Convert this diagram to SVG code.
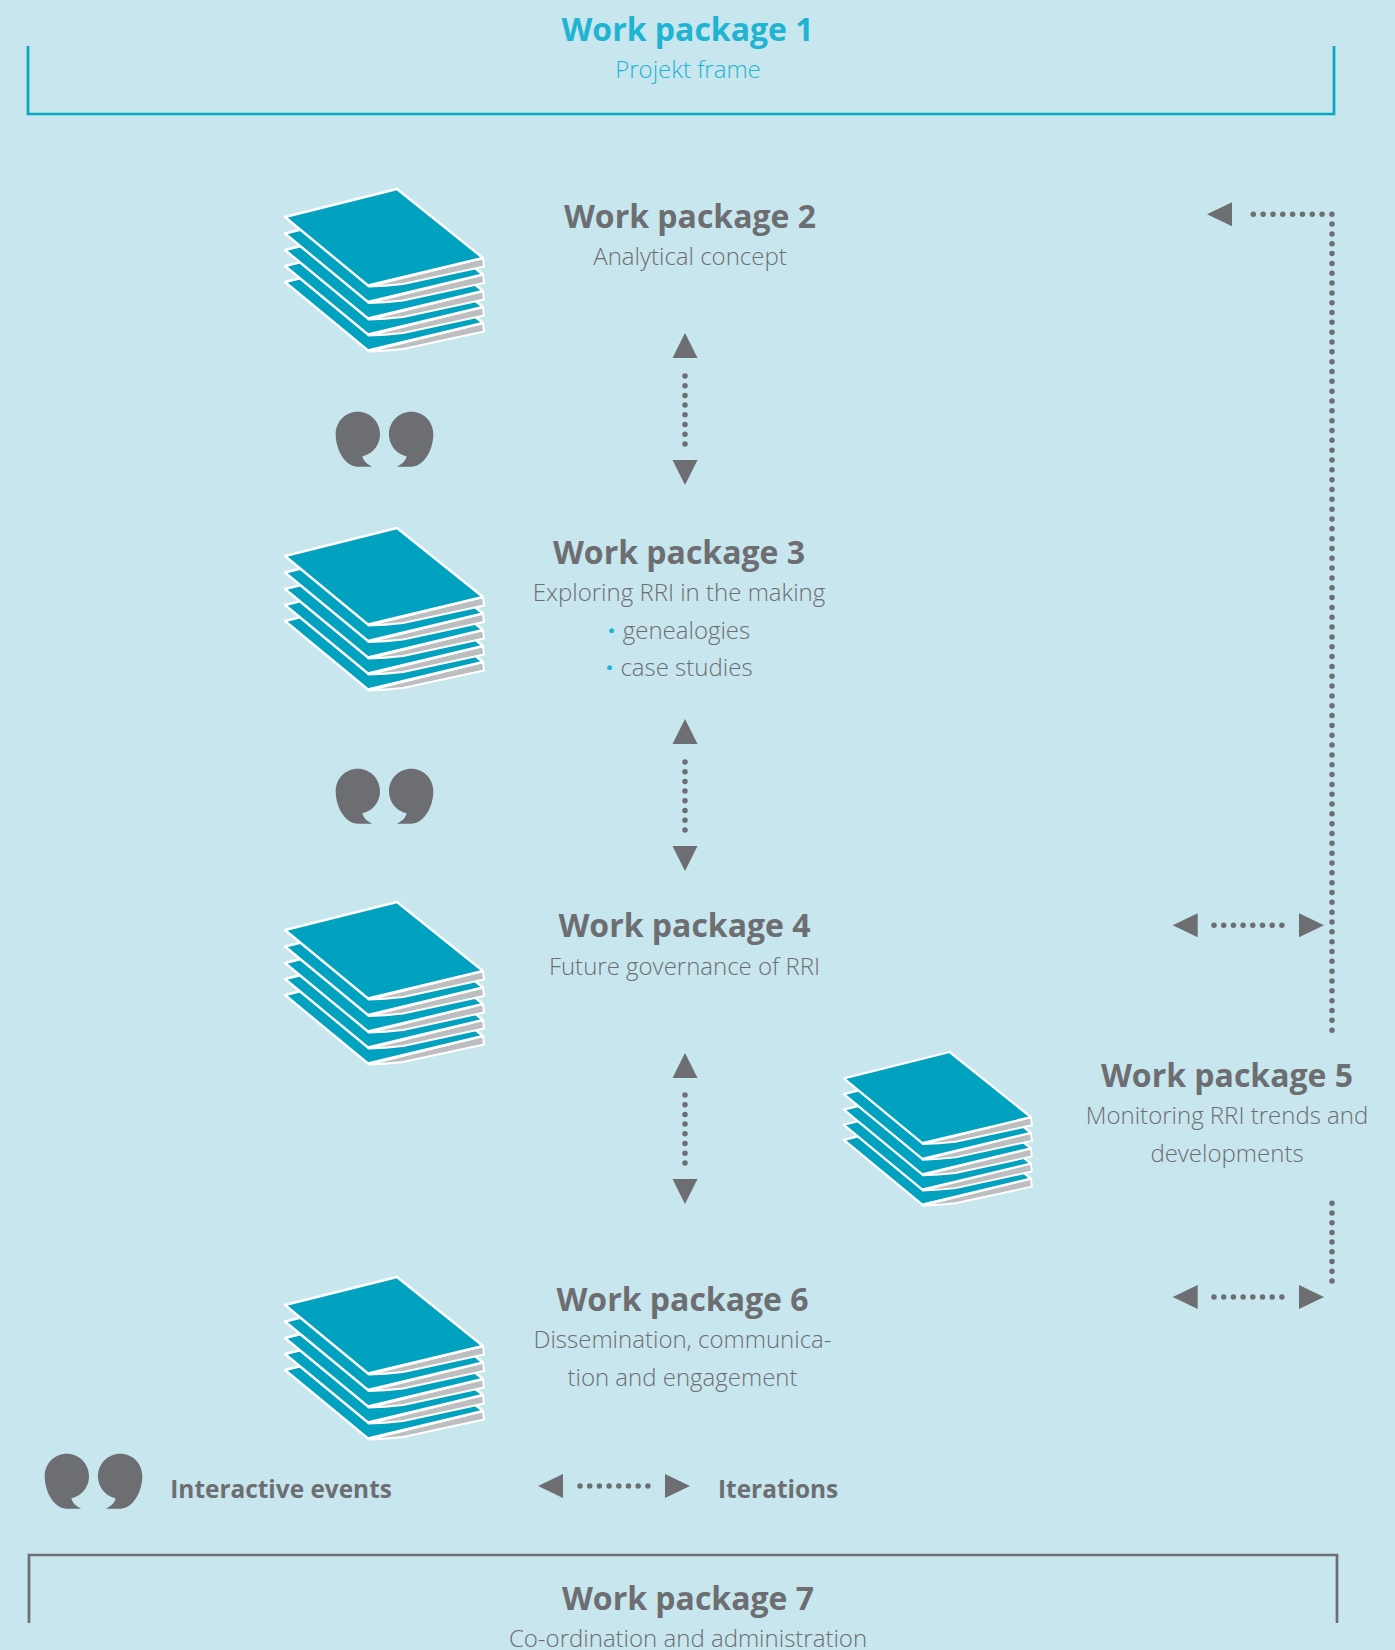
<svg xmlns="http://www.w3.org/2000/svg" xmlns:xlink="http://www.w3.org/1999/xlink" width="1395" height="1650" viewBox="0 0 1395 1650">
<style>
text{font-family:"Open Sans","Noto Sans",sans-serif;text-anchor:middle}
.h{font-size:32px;font-weight:700;fill:#6d6e71}
.s{font-size:24px;font-weight:300;fill:#6d6e71}
.b{font-size:24.4px;font-weight:700;fill:#6d6e71;text-anchor:start}
.c{fill:#1fb4d2}
.bu{font-size:24px;font-weight:800;fill:#1fb4d2}
.sheet{fill:#00a2c0;stroke:#fff;stroke-width:2.4;stroke-linejoin:round}
.page{fill:#bcbec0;stroke:#fff;stroke-width:2;stroke-linejoin:round}
.tri{fill:#6d6e71}
.dot{fill:none;stroke:#6d6e71;stroke-width:5.5;stroke-linecap:round;stroke-dasharray:0 9.7}
.q{fill:#6d6e71}
</style>
<defs>
<g id="sheet">
<path class="page" d="M368.500 286.500L483 258L484 266.500L403 284Q385 286 368.500 286.500Z"/>
<path class="sheet" d="M285 217L397 189L483 258L368 285.500Z"/>
</g>
<g id="stack">
<use xlink:href="#sheet" y="65"/><use xlink:href="#sheet" y="49"/><use xlink:href="#sheet" y="33"/><use xlink:href="#sheet" y="16.500"/><use xlink:href="#sheet"/>
</g>
<g id="quote">
<path d="M357.700 411.700C370 411.700 380 421.500 380 434.300C380 447 370 456.700 357.700 456.700Q360 456.400 362.300 455.700Q363 462 372 466.700L357 466.700C345 466 335.700 450 335.700 434.300C335.700 421.500 345.500 411.700 357.700 411.700Z"/>
</g>
</defs>
<rect width="1395" height="1650" fill="#c7e6ee"/>
<g id="connectors">
<path d="M28 46V114H1334V46" fill="none" stroke="#0ba6c4" stroke-width="2.700"/>
<path d="M29 1623V1555H1337V1623" fill="none" stroke="#6d6e71" stroke-width="2.700"/>
<path class="dot" d="M685 376V444"/><path class="tri" d="M685 333L697.500 358H672.500ZM685 485L697.500 460H672.500Z"/>
<path class="dot" d="M685 762V831"/><path class="tri" d="M685 719L697.500 744H672.500ZM685 871L697.500 846H672.500Z"/>
<path class="dot" d="M685 1095V1164"/><path class="tri" d="M685 1053L697.500 1078H672.500ZM685 1204L697.500 1179H672.500Z"/>
<path class="dot" style="stroke-dasharray:0 9.83" d="M1253.300 214.300H1332V1031"/><path class="tri" d="M1207 214.300L1232 202.300V226.300Z"/>
<path class="dot" d="M1214 925.300H1282"/><path class="tri" d="M1172.700 925.300L1197.700 913.300V937.300ZM1324 925.300L1299 913.300V937.300Z"/>
<path class="dot" d="M1332 1203.300V1283"/>
<path class="dot" d="M1214 1297H1282"/><path class="tri" d="M1172.700 1297L1197.700 1285V1309ZM1324 1297L1299 1285V1309Z"/>
<path class="dot" d="M580 1486H648"/><path class="tri" d="M538 1486L563 1474V1498ZM690 1486L665 1474V1498Z"/>
</g>
<g id="wp1"><text class="h c" x="687.500" y="41">Work package 1</text><text class="s c" x="688" y="78">Projekt frame</text></g>
<g id="wp2"><use xlink:href="#stack"/><text class="h" x="690" y="228">Work package 2</text><text class="s" x="690" y="265">Analytical concept</text></g>
<g id="wp3"><use xlink:href="#stack" y="339"/><text class="h" x="679" y="564">Work package 3</text><text class="s" x="679" y="601">Exploring RRI in the making</text>
<text class="bu" x="611.500" y="639">·</text><text class="s" x="686.500" y="639">genealogies</text><text class="bu" x="609.500" y="676">·</text><text class="s" x="686.500" y="676">case studies</text></g>
<g id="wp4"><use xlink:href="#stack" y="713"/><text class="h" x="684.500" y="937">Work package 4</text><text class="s" x="684.500" y="975">Future governance of RRI</text></g>
<g id="wp5"><use xlink:href="#stack" transform="translate(574.500 873.400) scale(.945)"/><text class="h" x="1227" y="1087">Work package 5</text><text class="s" x="1227" y="1124">Monitoring RRI trends and</text><text class="s" x="1227" y="1162">developments</text></g>
<g id="wp6"><use xlink:href="#stack" y="1088"/><text class="h" x="682.500" y="1311">Work package 6</text><text class="s" x="682.500" y="1348">Dissemination, communica-</text><text class="s" x="682.500" y="1386">tion and engagement</text></g>
<g id="wp7"><text class="h" x="688" y="1610">Work package 7</text><text class="s" x="688" y="1647">Co-ordination and administration</text></g>
<g id="quote1" class="q"><use xlink:href="#quote"/><use xlink:href="#quote" transform="translate(769 0) scale(-1 1)"/></g>
<g id="quote2" class="q"><use xlink:href="#quote" y="357"/><use xlink:href="#quote" transform="translate(769 357) scale(-1 1)"/></g>
<g id="legend-quote" class="q"><use xlink:href="#quote" transform="translate(-291 1042)"/><use xlink:href="#quote" transform="translate(478 1042) scale(-1 1)"/></g>
<g id="legend"><text class="b" x="170.300" y="1498">Interactive events</text><text class="b" x="718" y="1498">Iterations</text></g>
</svg>
